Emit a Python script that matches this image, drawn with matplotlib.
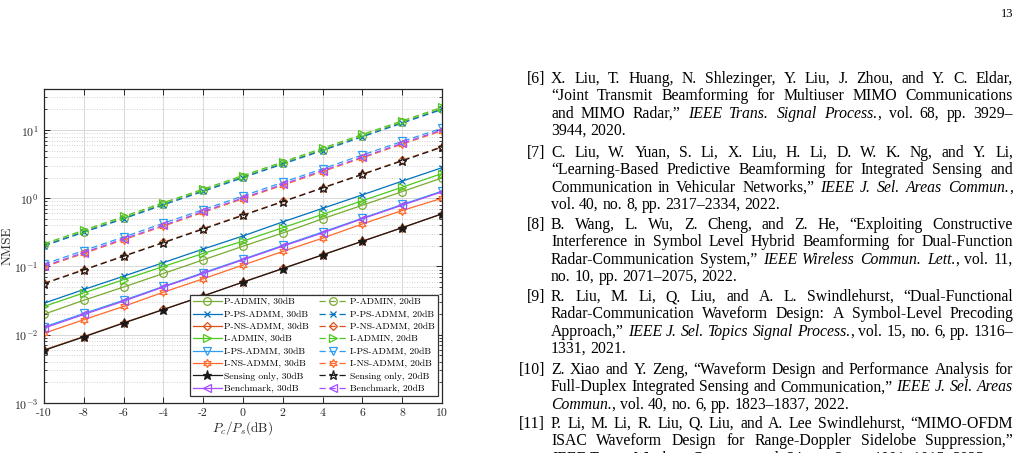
import matplotlib
matplotlib.use("Agg")
import matplotlib.pyplot as plt
from matplotlib.font_manager import FontProperties

# x axis: Pc/Ps in dB
pc_ps = [-10, -8, -6, -4, -2, 0, 2, 4, 6, 8, 10]

# NMSE, 30dB curves (solid)
p_admin_30 = [0.020, 0.032, 0.050, 0.079, 0.125, 0.198, 0.31, 0.50, 0.79, 1.25, 1.98]
p_ps_30 = [0.029, 0.046, 0.072, 0.114, 0.18, 0.28, 0.45, 0.71, 1.12, 1.78, 2.8]
p_ns_30 = [0.0060, 0.0094, 0.015, 0.0235, 0.037, 0.059, 0.094, 0.148, 0.235, 0.37, 0.59]
i_admin_30 = [0.026, 0.041, 0.064, 0.10, 0.155, 0.235, 0.37, 0.58, 0.92, 1.45, 2.3]
i_ps_30 = [0.0130, 0.0205, 0.032, 0.051, 0.081, 0.128, 0.203, 0.32, 0.51, 0.81, 1.27]
i_ns_30 = [0.0105, 0.0166, 0.026, 0.042, 0.066, 0.105, 0.166, 0.26, 0.42, 0.66, 1.0]
sens_30 = [0.0059, 0.0093, 0.0148, 0.0234, 0.037, 0.059, 0.093, 0.148, 0.234, 0.37, 0.59]
bench_30 = [0.0125, 0.0198, 0.031, 0.050, 0.079, 0.125, 0.198, 0.31, 0.50, 0.79, 1.24]

# NMSE, 20dB curves (dashed)
p_admin_20 = [0.205, 0.325, 0.515, 0.82, 1.30, 2.05, 3.25, 5.15, 8.2, 13.0, 20.5]
p_ps_20 = [0.20, 0.317, 0.50, 0.80, 1.26, 2.0, 3.17, 5.0, 7.95, 12.6, 20.0]
p_ns_20 = [0.057, 0.090, 0.143, 0.226, 0.36, 0.57, 0.90, 1.43, 2.26, 3.6, 5.7]
i_admin_20 = [0.215, 0.34, 0.54, 0.86, 1.36, 2.15, 3.4, 5.4, 8.6, 13.6, 21.5]
i_ps_20 = [0.108, 0.171, 0.27, 0.43, 0.68, 1.08, 1.71, 2.7, 4.3, 6.8, 10.6]
i_ns_20 = [0.098, 0.155, 0.246, 0.39, 0.62, 0.98, 1.55, 2.46, 3.9, 6.2, 9.7]
sens_20 = [0.056, 0.089, 0.141, 0.223, 0.353, 0.56, 0.89, 1.41, 2.23, 3.53, 5.6]
bench_20 = [0.101, 0.160, 0.254, 0.40, 0.64, 1.01, 1.60, 2.54, 4.0, 6.4, 10.0]

methods = ["P-ADMIN", "P-PS-ADMM", "P-NS-ADMM", "I-ADMIN",
           "I-PS-ADMM", "I-NS-ADMM", "Sensing only", "Benchmark"]
series_30 = [p_admin_30, p_ps_30, p_ns_30, i_admin_30, i_ps_30, i_ns_30, sens_30, bench_30]
series_20 = [p_admin_20, p_ps_20, p_ns_20, i_admin_20, i_ps_20, i_ns_20, sens_20, bench_20]

colors = ["#77AC30", "#0072BD", "#D95319", "#4FC81E",
          "#2D9CF2", "#FF6A2A", "#1a1a1a", "#A64DFF"]
markers = ["o", "x", "D", ">", "v", (6, 1, 0), "*", "<"]
msizes = [5.5, 4.5, 4.5, 6, 6, 6, 6.5, 6]

x_ticks = [-10, -8, -6, -4, -2, 0, 2, 4, 6, 8, 10]
x_ticklabels = ["-10", "-8", "-6", "-4", "-2", "0", "2", "4", "6", "8", "10"]
y_ticks = [1e-3, 1e-2, 1e-1, 1e0, 1e1]
y_ticklabels = [r"$10^{-3}$", r"$10^{-2}$", r"$10^{-1}$", r"$10^{0}$", r"$10^{1}$"]

plt.rcParams["font.family"] = "cmr10"
plt.rcParams["mathtext.fontset"] = "cm"
plt.rcParams["axes.unicode_minus"] = False

W, H = 1022, 453
fig = plt.figure(figsize=(W / 100, H / 100), dpi=100)
ax = fig.add_axes([44 / W, 1 - 403 / H, (442 - 44) / W, (403 - 89) / H])

handles = []
for style, group in (("-", series_30), ("--", series_20)):
    for i, vals in enumerate(group):
        face = "none"
        if markers[i] == "*" and style == "-":
            face = colors[i]
        ln, = ax.plot(pc_ps, vals, linestyle=style, color=colors[i], lw=0.9,
                      marker=markers[i], markersize=msizes[i],
                      markerfacecolor=face, markeredgewidth=0.9,
                      dashes=(5, 3) if style == "--" else (None, None))
        handles.append(ln)

labels = [m + ", 30dB" for m in methods] + [m + ", 20dB" for m in methods]

ax.set_yscale("log")
ax.set_xlim(-10, 10)
ax.set_ylim(1e-3, 10 ** 1.6)
ax.set_xticks(x_ticks)
ax.set_xticklabels(x_ticklabels)
ax.set_yticks(y_ticks)
ax.set_yticklabels(y_ticklabels)
ax.tick_params(which="both", direction="in", top=True, right=True,
               labelsize=8.5, colors="#262626")
ax.tick_params(axis="x", pad=4)
ax.tick_params(axis="y", pad=4)
ax.tick_params(which="major", length=4, width=0.7)
ax.tick_params(which="minor", length=2.2, width=0.6)
ax.grid(True, which="major", color="#d8d8d8", lw=0.7, ls="-")
ax.grid(True, which="minor", axis="y", color="#c4c4c4", lw=0.6, ls=(0, (1, 2)))
ax.set_axisbelow(True)
for s in ax.spines.values():
    s.set_color("#262626")
    s.set_linewidth(0.9)

ax.set_xlabel(r"$P_c/P_s$(dB)", fontsize=9.5, labelpad=1, color="#262626")
ax.set_ylabel("NMSE", fontsize=9.5, color="#262626")
ax.yaxis.set_label_coords(-30 / 398, 0.5)

leg = ax.legend(handles, labels, ncol=2, loc="lower right",
                bbox_to_anchor=(1 - 4 / 398, 7 / 314), borderaxespad=0,
                fontsize=6.9, handlelength=3.0, handletextpad=0.3,
                columnspacing=1.0, labelspacing=0.38, borderpad=0.3,
                fancybox=False, framealpha=1, edgecolor="#333333")
leg.get_frame().set_linewidth(0.9)

# page number
fig.text(1013 / W, 1 - 17 / H, "13", ha="right", va="baseline",
         family="Liberation Serif", fontsize=9)

# reference list on the right
refs = [
    ("[6]", 83, [
        "X. Liu, T. Huang, N. Shlezinger, Y. Liu, J. Zhou, and Y. C. Eldar,",
        "\u201cJoint Transmit Beamforming for Multiuser MIMO Communications",
        "and MIMO Radar,\u201d *IEEE Trans. Signal Process.*, vol. 68, pp. 3929\u2013",
        "3944, 2020."]),
    ("[7]", 157, [
        "C. Liu, W. Yuan, S. Li, X. Liu, H. Li, D. W. K. Ng, and Y. Li,",
        "\u201cLearning-Based Predictive Beamforming for Integrated Sensing and",
        "Communication in Vehicular Networks,\u201d *IEEE J. Sel. Areas Commun.*,",
        "vol. 40, no. 8, pp. 2317\u20132334, 2022."]),
    ("[8]", 229, [
        "B. Wang, L. Wu, Z. Cheng, and Z. He, \u201cExploiting Constructive",
        "Interference in Symbol Level Hybrid Beamforming for Dual-Function",
        "Radar-Communication System,\u201d *IEEE Wireless Commun. Lett.*, vol. 11,",
        "no. 10, pp. 2071\u20132075, 2022."]),
    ("[9]", 301, [
        "R. Liu, M. Li, Q. Liu, and A. L. Swindlehurst, \u201cDual-Functional",
        "Radar-Communication Waveform Design: A Symbol-Level Precoding",
        "Approach,\u201d *IEEE J. Sel. Topics Signal Process.*, vol. 15, no. 6, pp. 1316\u2013",
        "1331, 2021."]),
    ("[10]", 374, [
        "Z. Xiao and Y. Zeng, \u201cWaveform Design and Performance Analysis for",
        "Full-Duplex Integrated Sensing and Communication,\u201d *IEEE J. Sel. Areas",
        "Commun.*, vol. 40, no. 6, pp. 1823\u20131837, 2022."]),
    ("[11]", 428, [
        "P. Li, M. Li, R. Liu, Q. Liu, and A. Lee Swindlehurst, \u201cMIMO-OFDM",
        "ISAC Waveform Design for Range-Doppler Sidelobe Suppression,\u201d",
        "*IEEE Trans. Wireless Commun.*, vol. 24, no. 2, pp. 1001\u20131015, 2025."]),
]

x_text, x_right, x_num, line_h = 551, 1013, 545, 17.3
fs_ref = 11.35
renderer = fig.canvas.get_renderer()
fp_up = FontProperties(family="Liberation Serif", size=fs_ref)
fp_it = FontProperties(family="Liberation Serif", size=fs_ref, style="italic")


def text_w(s, it):
    w, _, _ = renderer.get_text_width_height_descent(s, fp_it if it else fp_up, ismath=False)
    return w


space_w = text_w("a a", False) - text_w("aa", False)

for num, y0, lines in refs:
    fig.text(x_num / W, 1 - y0 / H, num, ha="right", va="baseline",
             fontproperties=fp_up)
    italic = False
    for k, line in enumerate(lines):
        y = y0 + k * line_h
        words = []
        for w in line.split(" "):
            segs = []
            for j, part in enumerate(w.split("*")):
                if j > 0:
                    italic = not italic
                if part:
                    segs.append((part, italic))
            words.append(segs)
        widths = [sum(text_w(s, it) for s, it in segs) for segs in words]
        last = k == len(lines) - 1
        if last or len(words) < 2:
            gap = space_w
        else:
            gap = (x_right - x_text - sum(widths)) / (len(words) - 1)
        x = x_text
        for segs, wd in zip(words, widths):
            xs = x
            for s, it in segs:
                fig.text(xs / W, 1 - y / H, s, ha="left", va="baseline",
                         fontproperties=fp_it if it else fp_up)
                xs += text_w(s, it)
            x += wd + gap

fig.savefig("out.png", dpi=100)
